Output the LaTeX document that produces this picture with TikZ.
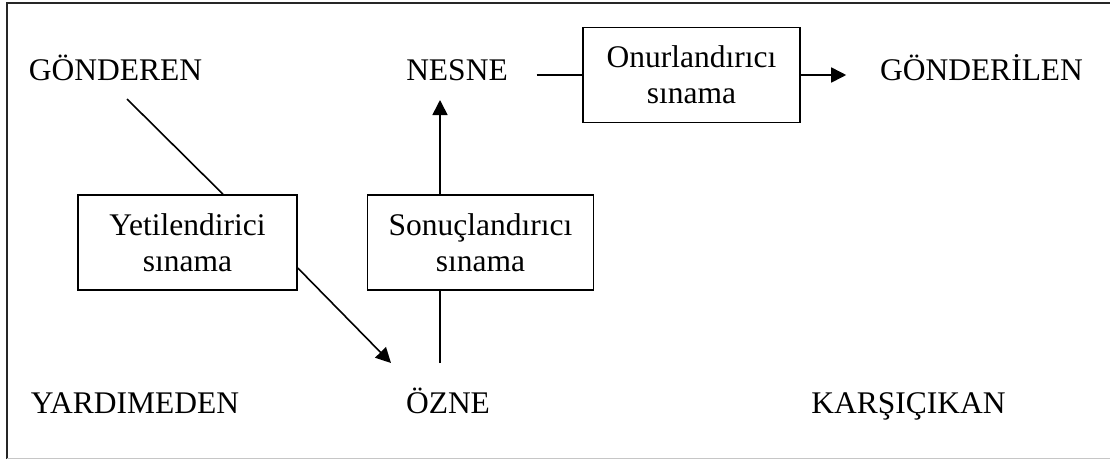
\documentclass[tikz,border=0pt]{standalone}
\usepackage{fontspec}
\setmainfont{Liberation Serif}
\usetikzlibrary{arrows.meta}
\usetikzlibrary{positioning}
\usetikzlibrary{calc}

\begin{document}
\begin{tikzpicture}[x=1pt,y=-1pt,>={Triangle[length=15pt,width=15pt]},
	line width=1.6pt,
	actant/.style={inner sep=0pt,anchor=base,font=\fontsize{31.5}{36}\selectfont},
	test box/.style={draw,inner sep=0pt,minimum height=95pt,align=center,
		font=\fontsize{31.5}{36}\selectfont}]

	\useasboundingbox (0,0) rectangle (1110,459);
	% frame
	\draw[line width=2pt,black!85] (7,459) -- (7,3) -- (1110,3);
	\draw[gray!45,line width=1pt] (7,458) -- (1110,458);

	% actants
	\node[actant] (gonderen) at (115.5,80) {GÖNDEREN};
	\node[actant] (nesne) at (457,80) {NESNE};
	\node[actant] (gonderilen) at (981.5,80) {GÖNDERİLEN};
	\node[actant] (yardimeden) at (135,413) {YARDIMEDEN};
	\node[actant] (ozne) at (448,413) {ÖZNE};
	\node[actant] (karsicikan) at (908.5,413) {KARŞIÇIKAN};

	% tests
	\node[test box,minimum width=219pt] (yetil) at (187.5,242.5) {Yetilendirici\\sınama};
	\node[test box,minimum width=226pt] (sonuc) at (480.5,242.5) {Sonuçlandırıcı\\sınama};
	\node[test box,minimum width=217pt] (onur) at (691.5,75) {Onurlandırıcı\\sınama};

	\coordinate (stem) at ($(ozne.base)+(-8pt,50pt)$);

	\draw ($(gonderen.base)+(11.5pt,-19pt)$) -- ($(yetil.north)+(35.5pt,0)$);
	\draw[->] ($(yetil.east)+(0,-25.5pt)$) -- ($(ozne.base)+(-57pt,50pt)$);
	\draw (stem) -- (stem |- sonuc.south);
	\draw[->] (stem |- sonuc.north) -- ($(nesne.base -| stem)+(0,-20pt)$);
	\draw ($(nesne.east |- onur.west)+(28pt,0)$) -- (onur.west);
	\draw[->] (onur.east) -- ($(gonderilen.west |- onur.east)+(-33pt,0)$);
\end{tikzpicture}
\end{document}
